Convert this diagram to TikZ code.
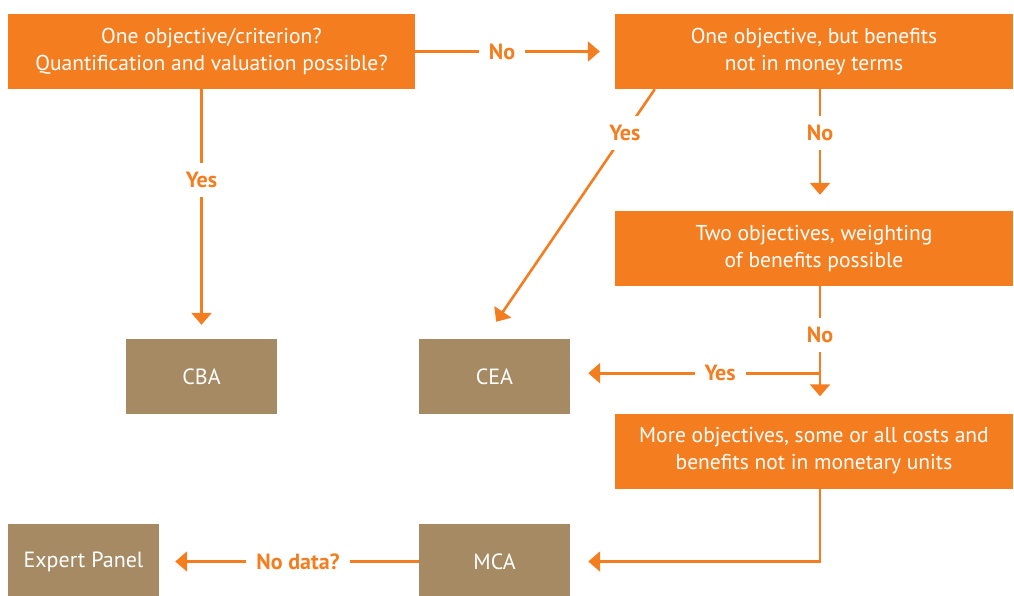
\documentclass[tikz,border=0pt]{standalone}
\usepackage{fontspec}
\setmainfont{PT Sans}
\usetikzlibrary{arrows.meta,calc}
\definecolor{orng}{HTML}{F47D20}
\definecolor{brwn}{HTML}{A68A64}
\tikzset{
 qbox/.style={fill=orng, text=white, minimum width=398pt, minimum height=75pt, inner sep=0pt, align=center, font=\fontsize{21.5}{27}\selectfont, execute at begin node=\rule{0pt}{22pt}},
 abox/.style={fill=brwn, text=white, minimum width=151pt, minimum height=75pt, inner sep=0pt, align=center, font=\fontsize{22}{27}\selectfont},
 conn/.style={draw=orng, line width=2.6pt, -{Triangle[width=20pt,length=12pt]}},
 lbl/.style={fill=white, text=orng, font=\bfseries\fontsize{22}{26}\selectfont, inner xsep=10pt, inner ysep=9pt}
}
\begin{document}
\begin{tikzpicture}[x=1pt,y=-1pt]
\useasboundingbox (0,0) rectangle (1014,596);
\node[qbox, minimum width=407pt] (q1) at (211.5,51.5) {One objective/criterion?\\Quantification and valuation possible?};
\node[qbox] (q2) at (814,51.5) {One objective, but benefits\\not in money terms};
\node[qbox] (q3) at (814,248.5) {Two objectives, weighting\\of benefits possible};
\node[qbox] (q4) at (814,451) {More objectives, some or all costs and\\benefits not in monetary units};
\node[abox] (cba) at (201.5,376.5) {CBA};
\node[abox] (cea) at (494.5,376.5) {CEA};
\node[abox] (mca) at (494.5,561.5) {MCA};
\node[abox] (exp) at (83.5,561.5) {Expert Panel};
\coordinate (j) at ($(q3.south)+(6,87)$);
\draw[conn, shorten >=15pt] (q1.east) -- (q1.east -| q2.west) node[lbl, pos=0.435] {No};
\draw[conn, shorten >=14pt] (q1.south -| cba) -- (cba.north) node[lbl, pos=0.364] {Yes};
\draw[conn, shorten >=20.6pt] ($(q2.south west)+(40,0)$) -- ($(cea.north)+(-10,0)$) node[lbl, pos=0.176] {Yes};
\draw[conn, shorten >=16pt] ($(q2.south)+(6,0)$) -- ($(q3.north)+(6,0)$) node[lbl, pos=0.36] {No};
\draw[conn, shorten >=17pt] ($(q3.south)+(6,0)$) -- ($(q4.north)+(6,0)$) node[lbl, pos=0.386] {No};
\draw[conn, shorten >=18pt] (j) -- (j -| cea.east) node[lbl, pos=0.4] {Yes};
\draw[conn, shorten >=18pt] ($(q4.south)+(6,0)$) |- (mca.east);
\draw[conn, shorten >=16pt] (mca.west) -- (exp.east) node[lbl, pos=0.465] {No data?};
\end{tikzpicture}
\end{document}
